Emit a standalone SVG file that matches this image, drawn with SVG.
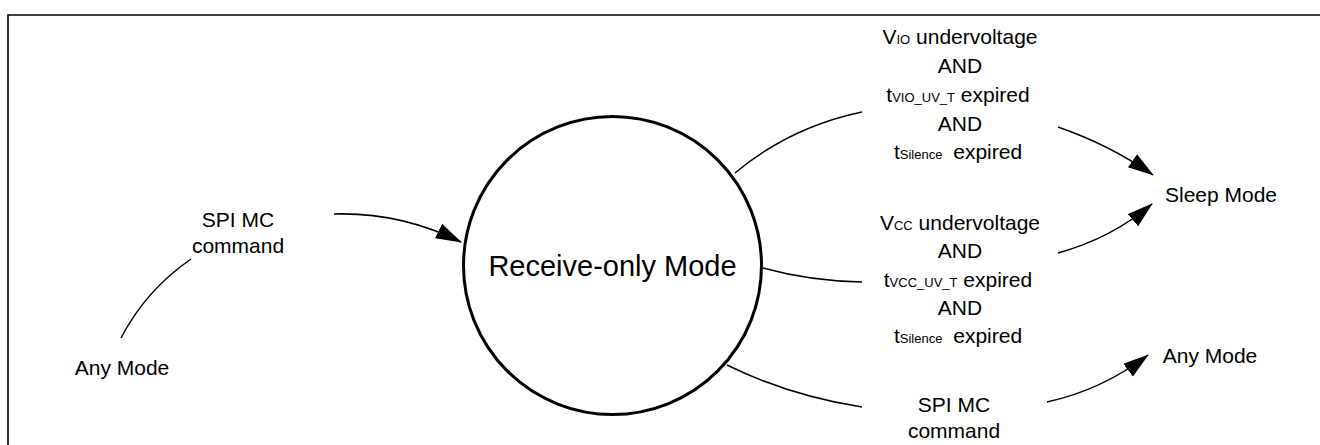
<svg xmlns="http://www.w3.org/2000/svg" width="1320" height="445" viewBox="0 0 1320 445">
<style>
.t{font-family:"Liberation Sans",Arial,sans-serif;font-size:21px;fill:#000;text-anchor:middle}
.s{font-size:13px}
.c{fill:none;stroke:#000;stroke-width:1.5}
.a{marker-end:url(#ah)}
</style>
<defs>
<marker id="ah" markerUnits="userSpaceOnUse" markerWidth="26" markerHeight="18" refX="25" refY="8" orient="auto">
<path d="M0,0 L26,8 L0,16 Z" fill="#000"/>
</marker>
</defs>
<rect width="1320" height="445" fill="#fff"/>
<g id="frame">
<path d="M8,445 L8,15 L1320,15" fill="none" stroke="#000" stroke-width="1.6"/>
</g>
<g id="connectors">
<path class="c" d="M121,338 Q146,290 191,259"/>
<path class="c a" d="M334,214 Q400,212 461,242"/>
<path class="c" d="M735,173 Q790,127 862,112"/>
<path class="c a" d="M1058,127 Q1110,145 1153,175"/>
<path class="c" d="M763,268 Q810,281 862,282"/>
<path class="c a" d="M1058,253 Q1112,238 1152,204"/>
<path class="c" d="M727,365 Q790,396 862,407"/>
<path class="c a" d="M1047,402 Q1102,390 1148,355"/>
</g>
<g id="receive-only">
<circle cx="612.5" cy="265.5" r="149" fill="#fff" stroke="#000" stroke-width="3"/>
<text class="t" x="612.5" y="276" style="font-size:29px">Receive-only Mode</text>
</g>
<g id="any-mode-left">
<text class="t" x="122" y="375">Any Mode</text>
</g>
<g id="label-spi-left">
<text class="t" x="238" y="227">SPI MC</text>
<text class="t" x="238" y="253">command</text>
</g>
<g id="label-vio">
<text class="t" x="960" y="44">V<tspan class="s">IO</tspan> undervoltage</text>
<text class="t" x="960" y="73">AND</text>
<text class="t" x="958" y="102">t<tspan class="s">VIO_UV_T</tspan> expired</text>
<text class="t" x="960" y="131">AND</text>
<text class="t" x="958" y="159">t<tspan class="s">Silence</tspan><tspan dx="5"> expired</tspan></text>
</g>
<g id="sleep-mode">
<text class="t" x="1221" y="202">Sleep Mode</text>
</g>
<g id="label-vcc">
<text class="t" x="960" y="230">V<tspan class="s">CC</tspan> undervoltage</text>
<text class="t" x="960" y="258">AND</text>
<text class="t" x="958" y="287">t<tspan class="s">VCC_UV_T</tspan> expired</text>
<text class="t" x="960" y="315">AND</text>
<text class="t" x="958" y="343">t<tspan class="s">Silence</tspan><tspan dx="5"> expired</tspan></text>
</g>
<g id="label-spi-right">
<text class="t" x="954" y="412">SPI MC</text>
<text class="t" x="954" y="438">command</text>
</g>
<g id="any-mode-right">
<text class="t" x="1210" y="363">Any Mode</text>
</g>
</svg>
